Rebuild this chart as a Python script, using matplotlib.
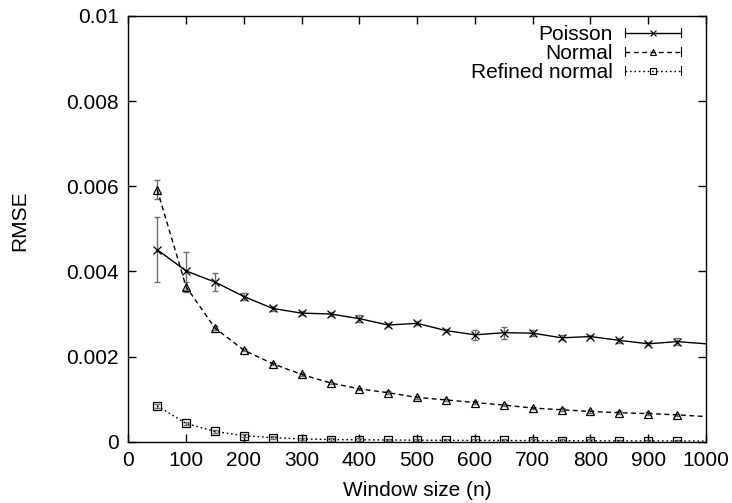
import matplotlib
matplotlib.use("Agg")
import matplotlib.pyplot as plt
from matplotlib.legend_handler import HandlerBase
from matplotlib.lines import Line2D

plt.rcParams['font.family'] = ['Liberation Sans', 'DejaVu Sans']

window = [50, 100, 150, 200, 250, 300, 350, 400, 450, 500,
          550, 600, 650, 700, 750, 800, 850, 900, 950, 1000]

poisson = [4.51, 4.01, 3.75, 3.41, 3.13, 3.02, 3.00, 2.89, 2.74, 2.78,
           2.61, 2.51, 2.56, 2.55, 2.44, 2.47, 2.38, 2.30, 2.35, 2.30]
poisson_err = [0.77, 0.44, 0.21, 0.08, 0.05, 0.04, 0.04, 0.08, 0.05, 0.05,
               0.04, 0.12, 0.14, 0.07, 0.06, 0.04, 0.06, 0.04, 0.08, 0.0]

normal = [5.92, 3.64, 2.67, 2.15, 1.83, 1.58, 1.38, 1.24, 1.15, 1.04,
          0.98, 0.92, 0.86, 0.79, 0.75, 0.71, 0.68, 0.66, 0.63, 0.59]
normal_err = [0.22, 0.12, 0.04, 0.03, 0.03, 0.03, 0.03, 0.03, 0.03, 0.03,
              0.03, 0.03, 0.03, 0.03, 0.03, 0.03, 0.03, 0.03, 0.03, 0.0]

refined = [0.84, 0.43, 0.24, 0.14, 0.095, 0.065, 0.05, 0.045, 0.04, 0.035,
           0.032, 0.03, 0.028, 0.026, 0.024, 0.022, 0.02, 0.019, 0.018, 0.015]
refined_err = [0.04, 0.03, 0.03, 0.03, 0.03, 0.03, 0.03, 0.03, 0.03, 0.03,
               0.03, 0.03, 0.03, 0.03, 0.03, 0.03, 0.03, 0.03, 0.03, 0.0]

xticks = [0, 100, 200, 300, 400, 500, 600, 700, 800, 900, 1000]
yticks = [0, 0.002, 0.004, 0.006, 0.008, 0.01]
ytick_labels = ['0', '0.002', '0.004', '0.006', '0.008', '0.01']

scale = 1e-3
series = [
    ('Poisson', poisson, poisson_err, 'x', '-'),
    ('Normal', normal, normal_err, '^', (0, (3.5, 2.5))),
    ('Refined normal', refined, refined_err, 's', (0, (1.2, 2.0))),
]

fig = plt.figure(figsize=(7.32, 5.03), dpi=100)
ax = fig.add_axes([0.1753, 0.1219, 0.7892, 0.8463])


class CapLineHandler(HandlerBase):
    def __init__(self, ls):
        super().__init__()
        self.ls = ls

    def create_artists(self, legend, orig, xd, yd, width, height, fontsize, trans):
        yc = height / 2 - yd
        x0, x1 = -xd, -xd + width
        line = Line2D([x0, x1], [yc, yc], color='black',
                      linestyle=self.ls, linewidth=1.0)
        caps = [Line2D([x, x], [yc - 3, yc + 3], color='black', linewidth=0.8)
                for x in (x0, x1)]
        mark = Line2D([(x0 + x1) / 2], [yc], marker=orig.get_marker(),
                      markersize=orig.get_markersize(), color='black',
                      markerfacecolor='none', markeredgewidth=0.8,
                      linestyle='none')
        arts = [line] + caps + [mark]
        for a in arts:
            a.set_transform(trans)
        return arts


handles = []
hmap = {}
for name, vals, errs, mk, ls in series:
    y = [v * scale for v in vals]
    e = [v * scale for v in errs]
    ax.errorbar(window[:-1], y[:-1], yerr=e[:-1], fmt='none',
                ecolor='#6e6e6e', elinewidth=1.0, capsize=2.5, capthick=1.0,
                zorder=2)
    ax.plot(window, y, color='black', linestyle=ls, linewidth=1.0, zorder=3)
    ax.plot(window[:-1], y[:-1], linestyle='none', marker=mk, color='black',
            markersize=5.5 if mk != 'x' else 6, markerfacecolor='none',
            markeredgewidth=0.9, zorder=4)
    h = Line2D([], [], color='black', linewidth=1.0, marker=mk,
               markersize=4.5 if mk != 'x' else 5, markerfacecolor='none',
               markeredgewidth=0.8, label=name)
    handles.append(h)
    hmap[h] = CapLineHandler(ls)

ax.legend(handles=handles, loc='upper right', bbox_to_anchor=(0.957, 0.979),
          frameon=False, markerfirst=False, fontsize=15,
          handlelength=2.7, handletextpad=0.6, labelspacing=0.0,
          borderpad=0, borderaxespad=0, handler_map=hmap)

ax.set_xlim(0, 1000)
ax.set_ylim(0, 0.01)
ax.set_xticks(xticks)
ax.set_yticks(yticks)
ax.set_yticklabels(ytick_labels)
ax.tick_params(direction='in', length=6, width=1.0, top=True, right=True,
               labelsize=15, pad=7)
for s in ax.spines.values():
    s.set_linewidth(1.0)

ax.set_xlabel('Window size (n)', fontsize=15)
ax.set_ylabel('RMSE', fontsize=15)
ax.xaxis.set_label_coords(0.5, -0.092)
ax.yaxis.set_label_coords(-0.172, 0.52)

fig.savefig('out.png', dpi=100)
